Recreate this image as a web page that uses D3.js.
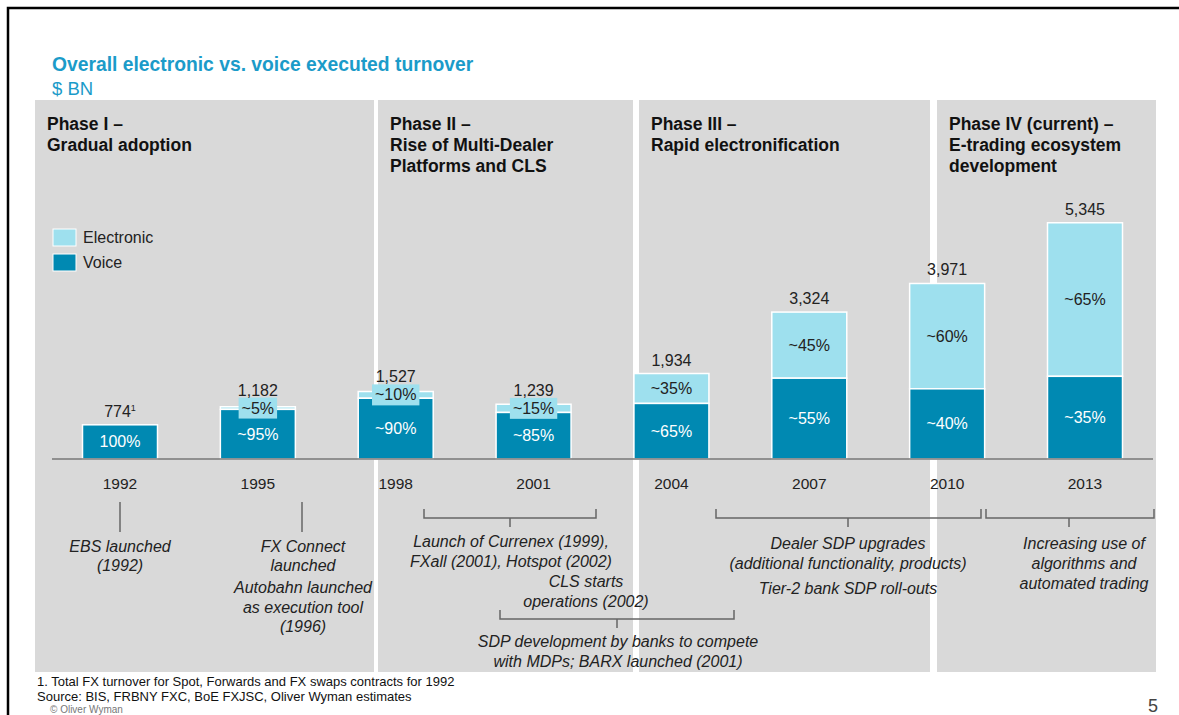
<!DOCTYPE html>
<html>
<head>
<meta charset="utf-8">
<script src="https://cdn.jsdelivr.net/npm/d3@7"></script>
<style>
  body { margin: 0; background: #fff; }
  svg { display: block; font-family: Arial, "Liberation Sans", sans-serif; }
</style>
</head>
<body>
<svg id="chart"></svg>
<script>
// chart data
const years = ['1992', '1995', '1998', '2001', '2004', '2007', '2010', '2013'];
const totals = [774, 1182, 1527, 1239, 1934, 3324, 3971, 5345];
const totalLabels = ['774', '1,182', '1,527', '1,239', '1,934', '3,324', '3,971', '5,345'];
const voicePct = [100, 95, 90, 85, 65, 55, 40, 35];
const electronicPct = [0, 5, 10, 15, 35, 45, 60, 65];
const voiceLabels = ['100%', '~95%', '~90%', '~85%', '~65%', '~55%', '~40%', '~35%'];
const electronicLabels = ['', '~5%', '~10%', '~15%', '~35%', '~45%', '~60%', '~65%'];
const seriesNames = ['Electronic', 'Voice'];
const phaseTitles = [
  ['Phase I –', 'Gradual adoption'],
  ['Phase II –', 'Rise of Multi-Dealer', 'Platforms and CLS'],
  ['Phase III –', 'Rapid electronification'],
  ['Phase IV (current) –', 'E-trading ecosystem', 'development'],
];
const footnotes = [
  '1. Total FX turnover for Spot, Forwards and FX swaps contracts for 1992',
  'Source: BIS, FRBNY FXC, BoE FXJSC, Oliver Wyman estimates',
];

// layout
const W = 1179, H = 715;
const axisY = 459;
const barW = 75;
const colors = { voice: '#0089b2', electronic: '#9ee0ee', panel: '#d9d9d9', title: '#1b9bc9', text: '#222' };
const panelEdges = [[35, 374], [378, 633], [639, 930], [937, 1156]];
const panelTop = 100, panelBottom = 672;

const svg = d3.select('#chart').attr('width', W).attr('height', H);

const x = d3.scalePoint().domain(years).range([120, 1085]);
const y = d3.scaleLinear().domain([0, 6000]).range([axisY, axisY - 265.2]);

// frame
svg.append('path')
  .attr('d', `M8,${H} V8 H${W}`)
  .attr('fill', 'none')
  .attr('stroke', '#000')
  .attr('stroke-width', 2.5);

// title
svg.append('text').attr('x', 52).attr('y', 71)
  .attr('font-size', 19.3).attr('font-weight', 'bold').attr('fill', colors.title)
  .text('Overall electronic vs. voice executed turnover');
svg.append('text').attr('x', 52).attr('y', 95)
  .attr('font-size', 18.5).attr('fill', colors.title)
  .text('$ BN');

// phase panels
const phases = svg.append('g').selectAll('g')
  .data(phaseTitles)
  .join('g');
phases.append('rect')
  .attr('x', (d, i) => panelEdges[i][0])
  .attr('width', (d, i) => panelEdges[i][1] - panelEdges[i][0])
  .attr('y', panelTop)
  .attr('height', panelBottom - panelTop)
  .attr('fill', colors.panel);
phases.append('text')
  .attr('font-size', 17.5).attr('font-weight', 'bold').attr('fill', '#111')
  .selectAll('tspan')
  .data((d, i) => d.map((line) => ({ line, i })))
  .join('tspan')
  .attr('x', (d) => panelEdges[d.i][0] + 12)
  .attr('y', (d, j) => 130 + j * 21)
  .text((d) => d.line);

// legend
const legend = svg.append('g').selectAll('g')
  .data(seriesNames)
  .join('g')
  .attr('transform', (d, i) => `translate(53, ${229 + i * 25})`);
legend.append('rect')
  .attr('width', 23).attr('height', 17)
  .attr('fill', (d) => d === 'Voice' ? colors.voice : colors.electronic)
  .attr('stroke', '#fff').attr('stroke-width', 1);
legend.append('text')
  .attr('x', 30).attr('y', 14)
  .attr('font-size', 16).attr('fill', colors.text)
  .text((d) => d);

// bars
const rows = years.map((year, i) => {
  const voice = totals[i] * voicePct[i] / 100;
  return { year, i, total: totals[i], voice };
});

const bars = svg.append('g').selectAll('g')
  .data(rows)
  .join('g');

// electronic (full stack height, voice drawn on top)
bars.filter((d) => electronicPct[d.i] > 0)
  .append('rect')
  .attr('x', (d) => x(d.year) - barW / 2)
  .attr('width', barW)
  .attr('y', (d) => y(d.total))
  .attr('height', (d) => y(d.voice) - y(d.total))
  .attr('fill', colors.electronic)
  .attr('stroke', '#fff').attr('stroke-width', 1.5);

bars.append('rect')
  .attr('x', (d) => x(d.year) - barW / 2)
  .attr('width', barW)
  .attr('y', (d) => y(d.voice))
  .attr('height', (d) => y(0) - y(d.voice))
  .attr('fill', colors.voice)
  .attr('stroke', '#fff').attr('stroke-width', 1.5);

// axis line
svg.append('line')
  .attr('x1', 52).attr('x2', 1153)
  .attr('y1', axisY).attr('y2', axisY)
  .attr('stroke', '#777').attr('stroke-width', 1.5);

// year labels
svg.append('g').selectAll('text')
  .data(years)
  .join('text')
  .attr('x', (d) => x(d))
  .attr('y', 489)
  .attr('text-anchor', 'middle')
  .attr('font-size', 15.5).attr('fill', colors.text)
  .text((d) => d);

// voice labels
bars.append('text')
  .attr('x', (d) => x(d.year))
  .attr('y', (d) => (y(0) + y(d.voice)) / 2 + 5.5)
  .attr('text-anchor', 'middle')
  .attr('font-size', 16).attr('fill', '#fff')
  .text((d) => voiceLabels[d.i]);

// electronic labels (small segments get a label box)
const small = (d) => electronicPct[d.i] > 0 && y(d.voice) - y(d.total) < 20;
bars.each(function (d) {
  if (!electronicPct[d.i]) return;
  const g = d3.select(this);
  const cy = (y(d.total) + y(d.voice)) / 2;
  const t = g.append('text')
    .attr('x', x(d.year))
    .attr('y', cy + 5.5)
    .attr('text-anchor', 'middle')
    .attr('font-size', 16).attr('fill', colors.text)
    .text(electronicLabels[d.i]);
  if (small(d)) {
    const w = t.node().getComputedTextLength() + 6;
    g.insert('rect', 'text')
      .attr('x', x(d.year) - w / 2)
      .attr('width', w)
      .attr('y', cy - 10.5)
      .attr('height', 21)
      .attr('fill', colors.electronic);
  }
});

// total labels
bars.append('text')
  .attr('x', (d) => x(d.year))
  .attr('y', (d) => small(d) ? (y(d.total) + y(d.voice)) / 2 - 12.5 : y(d.total) - 8)
  .attr('text-anchor', 'middle')
  .attr('font-size', 16).attr('fill', colors.text)
  .each(function (d) {
    const t = d3.select(this);
    t.append('tspan').text(totalLabels[d.i]);
    if (d.i === 0) {
      t.append('tspan').attr('font-size', 9).attr('dy', -6).text('1');
    }
  });

// milestone annotations
const notes = svg.append('g')
  .attr('font-size', 16).attr('font-style', 'italic').attr('fill', colors.text)
  .attr('text-anchor', 'middle');
const stroke = (sel) => sel.attr('fill', 'none').attr('stroke', '#666').attr('stroke-width', 1.5);

function noteText(cx, baseY, lines, gap = 20) {
  const t = notes.append('text');
  lines.forEach((line, j) => {
    t.append('tspan').attr('x', cx).attr('y', baseY + j * gap).text(line);
  });
}
function tick(cx, y1, y2) {
  notes.append('line').attr('x1', cx).attr('x2', cx).attr('y1', y1).attr('y2', y2).call(stroke);
}
function bracket(x1, x2, cx, by) {
  notes.append('path')
    .attr('d', `M${x1},${by - 9} V${by} H${x2} V${by - 9} M${cx},${by} V${by + 9}`)
    .call(stroke);
}

tick(120, 502, 532);
noteText(120, 552, ['EBS launched', '(1992)'], 19);
tick(302, 502, 532);
noteText(303, 552, ['FX Connect', 'launched'], 19);
noteText(303, 593, ['Autobahn launched', 'as execution tool', '(1996)'], 19.5);

bracket(424, 596, 510, 518);
noteText(511, 547, ['Launch of Currenex (1999),', 'FXall (2001), Hotspot (2002)']);
noteText(586, 587, ['CLS starts', 'operations (2002)']);
bracket(500, 734, 617, 619);
noteText(618, 647, ['SDP development by banks to compete', 'with MDPs; BARX launched (2001)']);

bracket(716, 981, 848, 518);
noteText(848, 549, ['Dealer SDP upgrades', '(additional functionality, products)']);
noteText(848, 594, ['Tier-2 bank SDP roll-outs']);
bracket(986, 1154, 1069, 518);
noteText(1084, 549, ['Increasing use of', 'algorithms and', 'automated trading']);

// footnotes
svg.append('g').selectAll('text')
  .data(footnotes)
  .join('text')
  .attr('x', 37)
  .attr('y', (d, i) => 686 + i * 15)
  .attr('font-size', 13).attr('fill', '#111')
  .text((d) => d);
svg.append('text').attr('x', 50).attr('y', 713)
  .attr('font-size', 10).attr('fill', '#777')
  .text('© Oliver Wyman');
svg.append('text').attr('x', 1148).attr('y', 712)
  .attr('font-size', 18).attr('fill', '#444')
  .text('5');
</script>
</body>
</html>
